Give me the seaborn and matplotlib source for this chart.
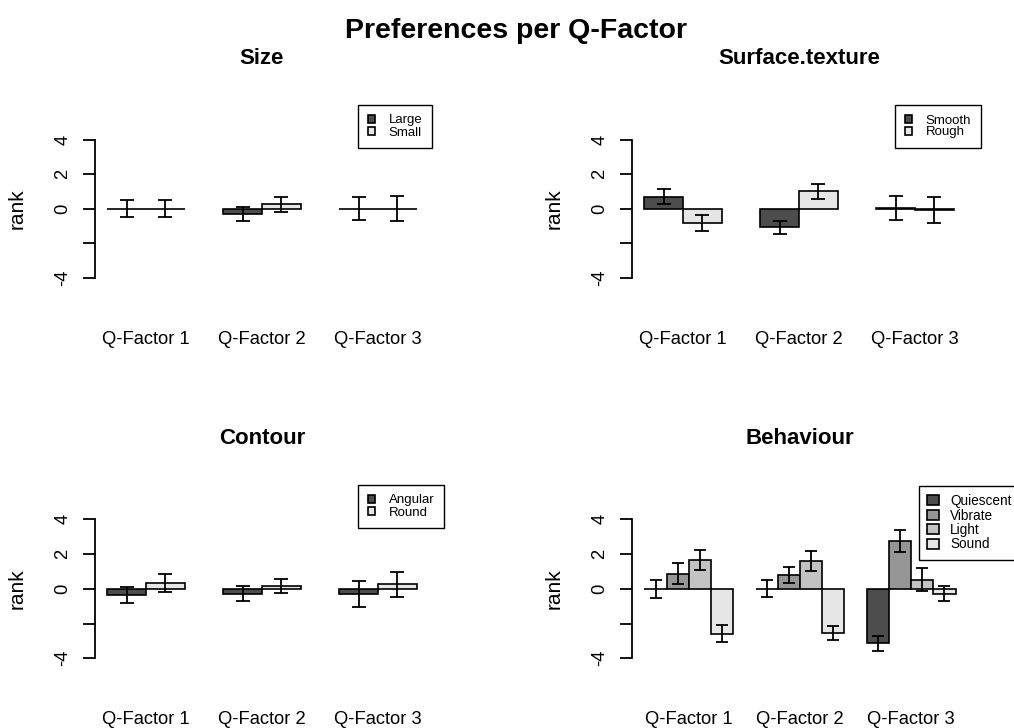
import numpy as np
import pandas as pd
import matplotlib
matplotlib.use("Agg")
import matplotlib.pyplot as plt
import seaborn as sns

# ---- data -------------------------------------------------------------
factors = ["Q-Factor 1", "Q-Factor 2", "Q-Factor 3"]

size_levels = ["Large", "Small"]
size_means = [[0.0, -0.30, 0.0], [0.0, 0.26, 0.0]]
size_errs = [[0.50, 0.41, 0.67], [0.50, 0.44, 0.71]]

texture_levels = ["Smooth", "Rough"]
texture_means = [[0.70, -1.08, 0.06], [-0.82, 1.00, -0.06]]
texture_errs = [[0.45, 0.36, 0.70], [0.47, 0.42, 0.75]]

contour_levels = ["Angular", "Round"]
contour_means = [[-0.37, -0.29, -0.30], [0.35, 0.17, 0.25]]
contour_errs = [[0.45, 0.44, 0.76], [0.53, 0.40, 0.71]]

behaviour_levels = ["Quiescent", "Vibrate", "Light", "Sound"]
behaviour_means = [[0.0, 0.0, -3.14], [0.87, 0.79, 2.74],
                   [1.68, 1.60, 0.52], [-2.60, -2.52, -0.29]]
behaviour_errs = [[0.53, 0.48, 0.45], [0.62, 0.45, 0.62],
                  [0.57, 0.57, 0.66], [0.49, 0.40, 0.44]]

yticks = [-4, -2, 0, 2, 4]
ytick_labels = ["-4", "", "0", "2", "4"]

# grey ramps (start 0.3, end 0.9, gamma 2.2)
grey2 = ["#4D4D4D", "#E6E6E6"]
grey4 = ["#4D4D4D", "#969696", "#C3C3C3", "#E6E6E6"]

# ---- style ------------------------------------------------------------
sns.set_theme(style="white")
plt.rcParams["font.family"] = ["Liberation Sans", "DejaVu Sans"]
plt.rcParams.update({"text.color": "black", "axes.labelcolor": "black",
                     "xtick.color": "black", "ytick.color": "black"})

W, H = 1014, 728
fig = plt.figure(figsize=(W / 100, H / 100), dpi=100)
fig.patch.set_facecolor("white")


def make_axes(left_px, top_px, width_px, height_px):
    return fig.add_axes([left_px / W, 1 - (top_px + height_px) / H,
                         width_px / W, height_px / H])


def panel(ax, title, levels, means, errs, palette, leg_pos, leg_style):
    rows = []
    for lv, m_list, e_list in zip(levels, means, errs):
        for f, m, e in zip(factors, m_list, e_list):
            rows.append({"factor": f, "level": lv, "rank": m, "err": e})
    df = pd.DataFrame(rows)

    n = len(levels)
    width = n / (n + 1)
    sns.barplot(data=df, x="factor", y="rank", hue="level", order=factors,
                hue_order=levels, palette=palette, width=width, gap=0,
                errorbar=None, edgecolor="black", linewidth=1.2,
                saturation=1, legend=True, ax=ax)

    # error bars at the bar centres
    cap = 5.2 if n == 2 else 4.0
    for cont, lv in zip(ax.containers, levels):
        sub = df[df["level"] == lv].set_index("factor").loc[factors]
        xs = [b.get_x() + b.get_width() / 2 for b in cont.patches]
        ax.errorbar(xs, sub["rank"].values, yerr=sub["err"].values, fmt="none",
                    ecolor="black", elinewidth=1.3, capsize=cap,
                    capthick=1.3, clip_on=False, zorder=5)

    span = 2 + width
    ext = 0.04 * span
    ax.set_xlim(-width / 2 - ext, 2 + width / 2 + ext)
    ax.set_ylim(-4, 4)

    for s in ["top", "right", "bottom"]:
        ax.spines[s].set_visible(False)
    ax.spines["left"].set_color("black")
    ax.spines["left"].set_linewidth(1.3)

    ax.set_yticks(yticks)
    ax.set_yticklabels(ytick_labels)
    ax.tick_params(axis="y", left=True, length=9, width=1.3, color="black",
                   pad=8, labelsize=13.2, labelrotation=90)
    for t in ax.get_yticklabels():
        t.set_va("center")
    ax.tick_params(axis="x", bottom=False, length=0, pad=38, labelsize=13.2)

    ax.set_xlabel("")
    ax.set_ylabel("rank", fontsize=15)
    ax.yaxis.set_label_coords(-0.204, 0.5)
    ax.set_title(title, fontsize=16, fontweight="bold", pad=54)

    handles, labels = ax.get_legend_handles_labels()
    ax.legend(handles, labels, loc="upper left",
              bbox_to_anchor=(leg_pos[0] / W, 1 - leg_pos[1] / H),
              bbox_transform=fig.transFigure, frameon=True, fancybox=False,
              edgecolor="black", framealpha=1, borderaxespad=0, **leg_style)
    ax.get_legend().get_frame().set_linewidth(1.0)


small_legend = dict(fontsize=9.5, handlelength=0.6, handleheight=0.55,
                    handletextpad=1.0, labelspacing=0.0, borderpad=0.72)
large_legend = dict(fontsize=9.8, handlelength=0.86, handleheight=0.75,
                    handletextpad=0.83, labelspacing=0.03, borderpad=0.6)

ax_size = make_axes(95, 139.5, 334, 138.5)
ax_tex = make_axes(632, 139.5, 334, 138.5)
ax_con = make_axes(95, 519.3, 334, 139)
ax_beh = make_axes(632, 519.3, 336, 139)

panel(ax_size, "Size", size_levels, size_means, size_errs, grey2,
      (358, 105), small_legend)
panel(ax_tex, "Surface.texture", texture_levels, texture_means, texture_errs,
      grey2, (895, 105), small_legend)
panel(ax_con, "Contour", contour_levels, contour_means, contour_errs, grey2,
      (358, 485), small_legend)
panel(ax_beh, "Behaviour", behaviour_levels, behaviour_means, behaviour_errs,
      grey4, (919, 486), large_legend)

fig.suptitle("Preferences per Q-Factor", x=516 / W, y=1 - 31 / H,
             va="center", fontsize=20.5, fontweight="bold")

fig.savefig("out.png", dpi=100)
